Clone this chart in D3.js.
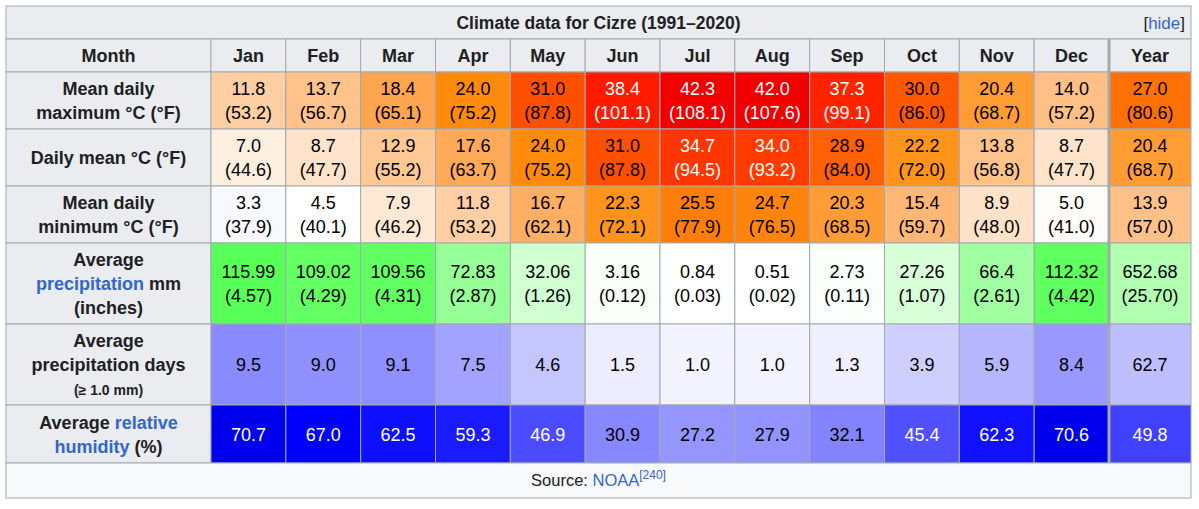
<!DOCTYPE html>
<html><head><meta charset="utf-8">
<script src="https://cdn.jsdelivr.net/npm/d3@7"></script>
<style>body{margin:0;background:#fff;font-family:"Liberation Sans",Arial,sans-serif}</style>
</head><body><svg id="c" width="1199" height="509"></svg>
<script>
const months = ["Jan","Feb","Mar","Apr","May","Jun","Jul","Aug","Sep","Oct","Nov","Dec","Year"];
const maxC = [11.8,13.7,18.4,24.0,31.0,38.4,42.3,42.0,37.3,30.0,20.4,14.0,27.0];
const maxF = [53.2,56.7,65.1,75.2,87.8,101.1,108.1,107.6,99.1,86.0,68.7,57.2,80.6];
const meanC = [7.0,8.7,12.9,17.6,24.0,31.0,34.7,34.0,28.9,22.2,13.8,8.7,20.4];
const meanF = [44.6,47.7,55.2,63.7,75.2,87.8,94.5,93.2,84.0,72.0,56.8,47.7,68.7];
const minC = [3.3,4.5,7.9,11.8,16.7,22.3,25.5,24.7,20.3,15.4,8.9,5.0,13.9];
const minF = [37.9,40.1,46.2,53.2,62.1,72.1,77.9,76.5,68.5,59.7,48.0,41.0,57.0];
const precMm = ["115.99","109.02","109.56","72.83","32.06","3.16","0.84","0.51","2.73","27.26","66.4","112.32","652.68"];
const precIn = ["4.57","4.29","4.31","2.87","1.26","0.12","0.03","0.02","0.11","1.07","2.61","4.42","25.70"];
const precDays = [9.5,9.0,9.1,7.5,4.6,1.5,1.0,1.0,1.3,3.9,5.9,8.4,62.7];
const humidity = [70.7,67.0,62.5,59.3,46.9,30.9,27.2,27.9,32.1,45.4,62.3,70.6,49.8];

const svg = d3.select("#c");
const border = "#a2a9b1", headBg = "#eaecf0", link = "#3366cc";
const L = 6, R = 1191, labelW = 205, yearW = 82;
const x = d3.scaleBand().domain(months.slice(0,12)).range([L+labelW, R-yearW]);
const colX = m => m === "Year" ? R-yearW : x(m);
const colW = m => m === "Year" ? yearW : x.bandwidth();

const tempColor = d3.scaleLinear()
  .domain([0,4.5,18,22,24,31,38,42])
  .range(["#e4e4ff","#ffffff","#ffa654","#ff951f","#ff8a0c","#ff5000","#ff1e00","#f00000"]).clamp(true);
const precColor = v => { const c = Math.max(0, Math.round(255 - 1.43*v)); return d3.rgb(c,255,c); };
const daysColor = v => { const c = Math.max(0, Math.round(255 - 12.3*v)); return d3.rgb(c,c,255); };
const humColor = h => {
  const rg = 16 + (62.3-h)*3.8;
  if (rg >= 0) return d3.rgb(Math.min(255,rg), Math.min(255,rg), 255);
  return d3.rgb(0,0,Math.round(255 + rg*1.2));
};
const f1 = d3.format(".1f");

const rows = [
  {h:57, label:[[["Mean daily",0]],[["maximum °C (°F)",0]]],
   cells: months.map((m,i)=>({lines:[f1(maxC[i]),"("+f1(maxF[i])+")"], fill:tempColor(maxC[i]), white:maxC[i]>33}))},
  {h:57, label:[[["Daily mean °C (°F)",0]]],
   cells: months.map((m,i)=>({lines:[f1(meanC[i]),"("+f1(meanF[i])+")"], fill:tempColor(meanC[i]), white:meanC[i]>33}))},
  {h:57, label:[[["Mean daily",0]],[["minimum °C (°F)",0]]],
   cells: months.map((m,i)=>({lines:[f1(minC[i]),"("+f1(minF[i])+")"], fill:tempColor(minC[i]), white:false}))},
  {h:81, label:[[["Average",0]],[["precipitation",1],[" mm",0]],[["(inches)",0]]],
   cells: months.map((m,i)=>({lines:[precMm[i],"("+precIn[i]+")"], fill:precColor(m==="Year"?+precMm[i]/12:+precMm[i]), white:false}))},
  {h:81, label:[[["Average",0]],[["precipitation days",0]],[["(≥ 1.0 mm)",0,14]]],
   cells: months.map((m,i)=>({lines:[f1(precDays[i])], fill:daysColor(m==="Year"?precDays[i]/12:precDays[i]), white:false}))},
  {h:58, label:[[["Average ",0],["relative",1]],[["humidity",1],[" (%)",0]]],
   cells: months.map((m,i)=>({lines:[f1(humidity[i])], fill:humColor(humidity[i]), white:humColor(humidity[i]).r<100}))}
];

// title
svg.append("rect").attr("x",L).attr("y",6).attr("width",R-L).attr("height",33).attr("fill",headBg).attr("stroke",border);
svg.append("text").attr("x",(L+R)/2).attr("y",29).attr("text-anchor","middle").attr("font-size",17.5).attr("font-weight","bold").attr("fill","#202122").text("Climate data for Cizre (1991–2020)");
const hide = svg.append("text").attr("x",R-6).attr("y",29).attr("text-anchor","end").attr("font-size",17).attr("fill","#202122");
hide.append("tspan").text("[");
hide.append("tspan").attr("fill",link).text("hide");
hide.append("tspan").text("]");

// header
let y = 39;
const hh = 33;
svg.append("rect").attr("x",L).attr("y",y).attr("width",labelW).attr("height",hh).attr("fill",headBg).attr("stroke",border);
svg.append("text").attr("x",L+labelW/2).attr("y",y+23).attr("text-anchor","middle").attr("font-size",18).attr("font-weight","bold").attr("fill","#202122").text("Month");
months.forEach(m => {
  svg.append("rect").attr("x",colX(m)).attr("y",y).attr("width",colW(m)).attr("height",hh).attr("fill",headBg).attr("stroke",border);
  svg.append("text").attr("x",colX(m)+colW(m)/2).attr("y",y+23).attr("text-anchor","middle").attr("font-size",18).attr("font-weight","bold").attr("fill","#202122").text(m);
});
y += hh;

rows.forEach(r => {
  svg.append("rect").attr("x",L).attr("y",y).attr("width",labelW).attr("height",r.h).attr("fill",headBg).attr("stroke",border);
  const n = r.label.length, lh = 24;
  r.label.forEach((line,li) => {
    const t = svg.append("text").attr("x",L+labelW/2).attr("y",y + r.h/2 + (li-(n-1)/2)*lh + 6.5)
      .attr("text-anchor","middle").attr("font-size",18).attr("font-weight","bold").attr("fill","#202122");
    line.forEach(seg => t.append("tspan").attr("fill",seg[1]?link:"#202122").attr("font-size",seg[2]||18).text(seg[0]));
  });
  r.cells.forEach((c,i) => {
    const m = months[i];
    svg.append("rect").attr("x",colX(m)).attr("y",y).attr("width",colW(m)).attr("height",r.h).attr("fill",c.fill).attr("stroke",border);
    const k = c.lines.length;
    c.lines.forEach((s,li) => {
      svg.append("text").attr("x",colX(m)+colW(m)/2).attr("y",y + r.h/2 + (li-(k-1)/2)*24 + 6.5)
        .attr("text-anchor","middle").attr("font-size",18).attr("fill",c.white?"#ffffff":"#000000").text(s);
    });
  });
  y += r.h;
});

// thick year separator
svg.append("line").attr("x1",R-yearW).attr("x2",R-yearW).attr("y1",39).attr("y2",y).attr("stroke",border).attr("stroke-width",3);

// source
svg.append("rect").attr("x",L).attr("y",y).attr("width",R-L).attr("height",35).attr("fill","#f8f9fa").attr("stroke",border);
const src = svg.append("text").attr("x",(L+R)/2).attr("y",y+23).attr("text-anchor","middle").attr("font-size",16.5).attr("fill","#202122");
src.append("tspan").text("Source: ");
src.append("tspan").attr("fill",link).text("NOAA");
src.append("tspan").attr("fill",link).attr("font-size",12).attr("dy",-7).text("[240]");
</script></body></html>
